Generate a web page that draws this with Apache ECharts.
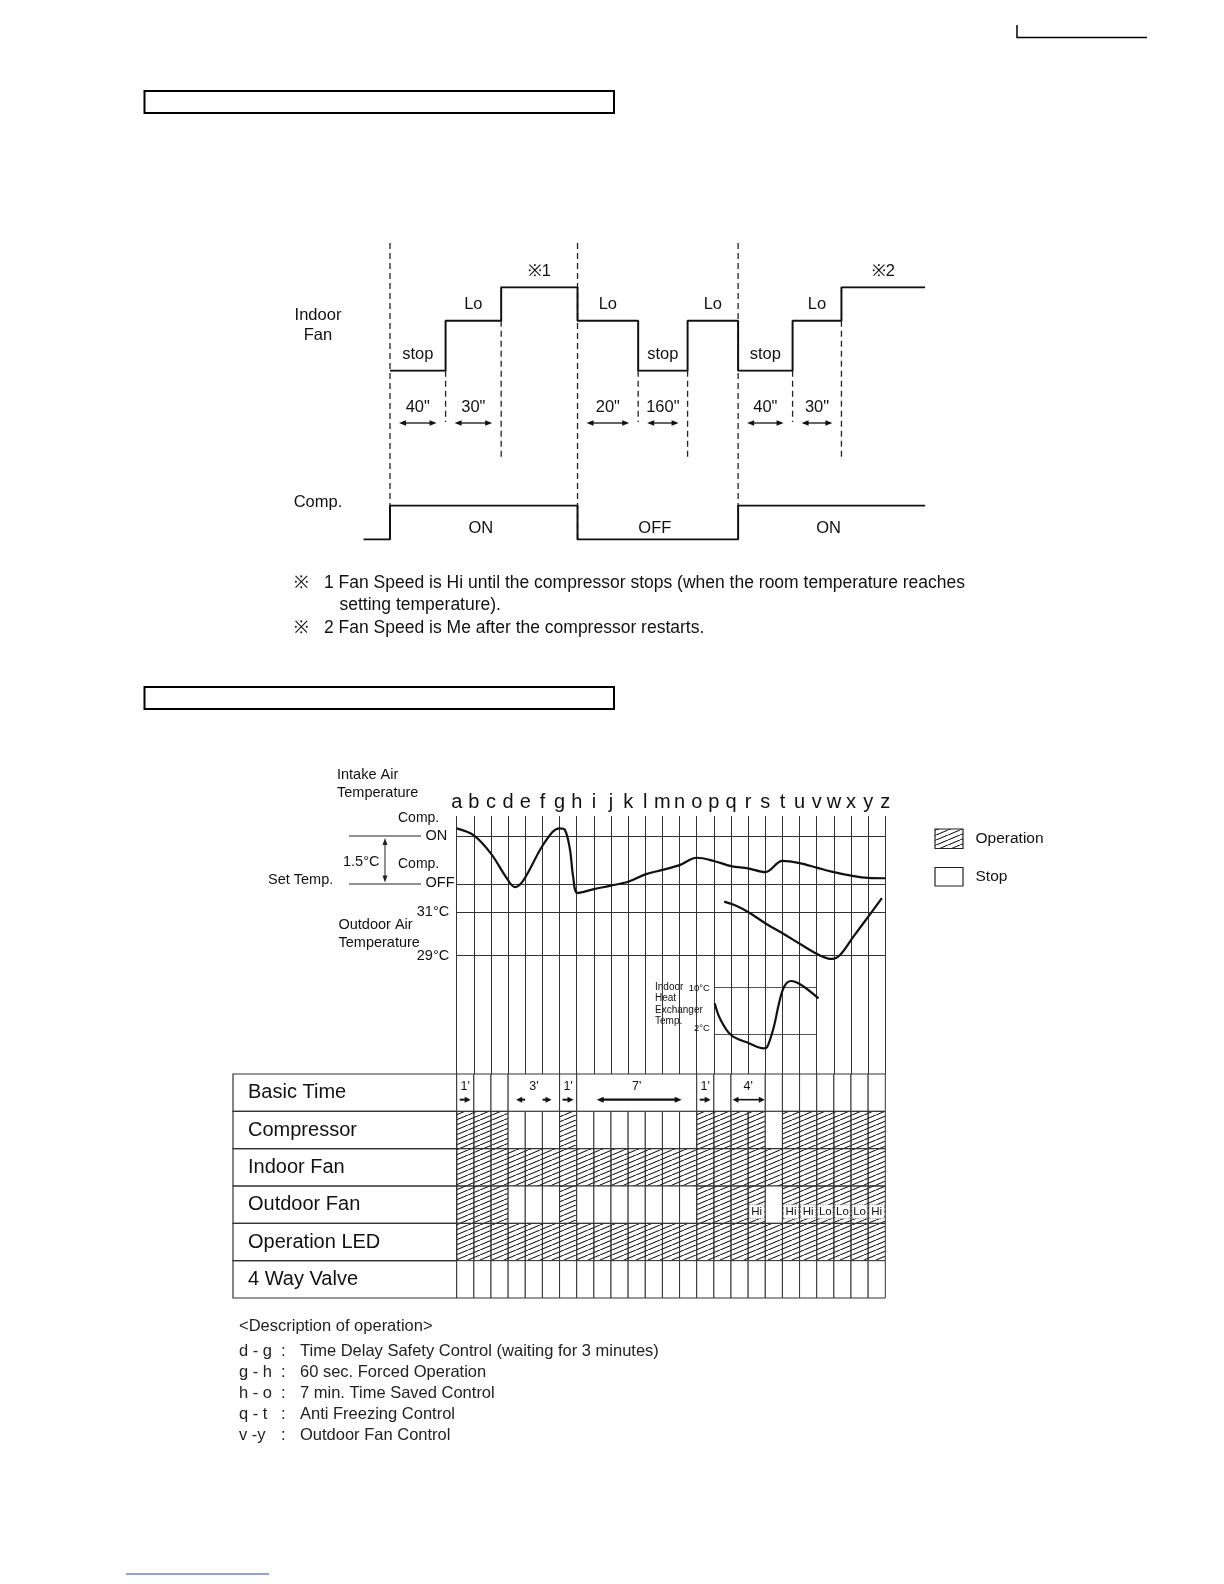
<!DOCTYPE html>
<html>
<head>
<meta charset="utf-8">
<script src="https://cdn.jsdelivr.net/npm/echarts@6/dist/echarts.min.js"></script>
<style>
  html, body { margin: 0; padding: 0; background: #fff; }
  #main { width: 1224px; height: 1584px; }
</style>
</head>
<body>
<div id="main"></div>
<script>
var FONT = '"Liberation Sans", Arial, Helvetica, sans-serif';

// ---- upper diagram (schematic time 0..100) ----
var fanTimes = [4.7, 14.6, 24.5, 38.1, 48.9, 57.7, 66.7, 76.4, 85.1, 100];
var fanLevel = [0, 3, 5, 3, 0, 3, 0, 3, 5, 5];          // stop=0, Lo=3, Hi=5
var fanTags = ['stop', 'Lo', '※1', 'Lo', 'stop', 'Lo', 'stop', 'Lo', '※2'];
var compTimes = [0, 4.7, 38.1, 66.7, 100];
var compLevel = [0, 1, 0, 1, 1];
var compTags = ['ON', 'OFF', 'ON'];
var gapFrom = [4.7, 14.6, 38.1, 48.9, 66.7, 76.4];
var gapTo = [14.6, 24.5, 48.9, 57.7, 76.4, 85.1];
var gapText = ['40"', '30"', '20"', '160"', '40"', '30"'];
var guideTimes = [4.7, 14.6, 24.5, 38.1, 48.9, 57.7, 66.7, 76.4, 85.1];
var guideKind = ['full', 'short', 'long', 'full', 'short', 'long', 'comp', 'short', 'long'];

// ---- lower diagram (a..z) ----
var letters = 'abcdefghijklmnopqrstuvwxyz'.split('');
var intake = [[0, 1.74], [1, 1.52], [2, 0.95], [2.9, 0.2], [3.4, -0.1], [3.9, 0.12], [4.9, 1.1],
  [5.6, 1.63], [6.0, 1.74], [6.3, 1.7], [6.6, 1.1], [6.8, 0.2], [7.05, -0.28], [8, -0.16],
  [9, -0.05], [10, 0.07], [11, 0.3], [12, 0.44], [13, 0.59], [14, 0.82], [15, 0.72], [16, 0.56],
  [17, 0.49], [18, 0.37], [19, 0.72], [20, 0.65], [21, 0.51], [22, 0.37], [23, 0.26], [24, 0.19], [25, 0.18]];
var outdoor = [[15.6, 31.49], [16.33, 31.29], [17.07, 30.98], [18.09, 30.45], [19.1, 29.99],
  [20.13, 29.49], [21.14, 29.03], [21.88, 28.85], [22.36, 29.03], [23.14, 29.88], [24.15, 30.95], [24.8, 31.65]];
var hexTemp = [[15.05, 7.3], [15.35, 4.77], [16.0, 1.95], [17.05, 0.55], [17.9, -0.3], [18.1, -0.13],
  [18.5, 3.35], [18.8, 7.3], [19.1, 10.1], [19.5, 11.06], [20.1, 10.39], [21.1, 8.14]];

var rows = ['Basic Time', 'Compressor', 'Indoor Fan', 'Outdoor Fan', 'Operation LED', '4 Way Valve'];
var allCols = []; for (var i = 0; i < 25; i++) allCols.push(i);
var compOn = [0, 1, 2, 6, 14, 15, 16, 17, 19, 20, 21, 22, 23, 24];
var rowOn = [null, compOn, allCols, compOn, allCols, []];
var basicSpans = [[0, 1], [1, 2], [2, 3], [3, 6], [6, 7], [7, 14], [14, 15], [15, 16], [16, 18],
  [18, 19], [19, 20], [20, 21], [21, 22], [22, 23], [23, 24], [24, 25]];
var timeFrom = [0, 3, 6, 7, 14, 16];
var timeTo = [1, 6, 7, 14, 15, 18];
var timeText = ["1'", "3'", "1'", "7'", "1'", "4'"];
var timeArrow = ['right', 'split', 'right', 'long', 'right', 'both'];
var speedCols = [17, 19, 20, 21, 22, 23, 24];
var speedText = ['Hi', 'Hi', 'Hi', 'Lo', 'Lo', 'Lo', 'Hi'];

var descCodes = ['d - g', 'g - h', 'h - o', 'q - t', 'v -y'];
var descTexts = ['Time Delay Safety Control (waiting for 3 minutes)', '60 sec. Forced Operation',
  '7 min. Time Saved Control', 'Anti Freezing Control', 'Outdoor Fan Control'];

// ---- layout ----
var TL = 363.6, TW = 561.5;
var BL = 456.7, BW = 428.6;
var INK = '#111';

function hatchTile() {
  var c = document.createElement('canvas');
  c.width = 12; c.height = 5;
  var g = c.getContext('2d');
  g.strokeStyle = '#111'; g.lineWidth = 1.05;
  g.beginPath();
  for (var k = -1; k <= 1; k++) { g.moveTo(k * 12, 5); g.lineTo(k * 12 + 12, 0); }
  g.stroke();
  return c;
}
var hatch = { image: hatchTile(), repeat: 'repeat' };

function arrow(x1, x2, y, left, right, lw, hl, hw) {
  var els = [{ type: 'line', shape: { x1: x1 + (left ? hl - 1 : 0), y1: y, x2: x2 - (right ? hl - 1 : 0), y2: y },
    style: { stroke: INK, lineWidth: lw } }];
  if (left) els.push({ type: 'polygon', shape: { points: [[x1, y], [x1 + hl, y - hw], [x1 + hl, y + hw]] }, style: { fill: INK } });
  if (right) els.push({ type: 'polygon', shape: { points: [[x2, y], [x2 - hl, y - hw], [x2 - hl, y + hw]] }, style: { fill: INK } });
  return els;
}

function txt(s, x, y, size, align, extra) {
  var o = { type: 'text', x: x, y: y, style: { text: s, font: size + 'px ' + FONT, fill: INK,
    textAlign: align || 'left', textVerticalAlign: 'middle' }, silent: true };
  if (extra) for (var k in extra) o.style[k] = extra[k];
  return o;
}

var chart = echarts.init(document.getElementById('main'));

var fanData = fanTimes.map(function (t, i) { return [t, fanLevel[i]]; });
var compData = compTimes.map(function (t, i) { return [t, compLevel[i]]; });
var tagData = fanTags.map(function (s, i) { return [fanTimes[i], fanTimes[i + 1], fanLevel[i]]; });
var compTagData = compTags.map(function (s, i) { return [compTimes[i + 1], compTimes[i + 2]]; });
var gapData = gapText.map(function (s, i) { return [gapFrom[i], gapTo[i]]; });
var guideData = guideTimes.map(function (t) {
  var i = fanTimes.indexOf(t);
  return [t, Math.min(fanLevel[i - 1] || 0, fanLevel[i])];
});
var guideBottom = { full: 540, comp: 506, short: 422, long: 458 };

var cellData = [];
basicSpans.forEach(function (s) { cellData.push([s[0], s[1], 0, 0]); });
for (var r = 1; r < rows.length; r++) {
  for (var c = 0; c < 25; c++) cellData.push([c, c + 1, r, rowOn[r].indexOf(c) >= 0 ? 1 : 0]);
}
var timeData = timeText.map(function (s, i) { return [timeFrom[i], timeTo[i], 0]; });
var speedData = speedCols.map(function (c) { return [c, 3]; });

var hiddenX = function (gi, min, max) {
  return { type: 'value', gridIndex: gi, min: min, max: max, show: false };
};
var plainY = function (gi, min, max, extra) {
  var o = { type: 'value', gridIndex: gi, min: min, max: max, axisLine: { show: false },
    axisTick: { show: false }, axisLabel: { show: false }, splitLine: { show: false } };
  if (extra) for (var k in extra) o[k] = extra[k];
  return o;
};

var option = {
  backgroundColor: '#fff',
  animation: false,
  textStyle: { fontFamily: FONT },
  grid: [
    { left: TL, width: TW, top: 287.3, height: 83.4 },           // 0 indoor fan
    { left: TL, width: TW, top: 505.5, height: 34.1 },           // 1 comp
    { left: BL, width: BW, top: 816, height: 258 },              // 2 lines a..z
    { left: BL, width: BW, top: 836, height: 48 },               // 3 intake
    { left: BL, width: BW, top: 912.3, height: 43.4 },           // 4 outdoor
    { left: BL + 15 * BW / 25, width: 6 * BW / 25, top: 987.3, height: 47.4 }, // 5 heat exch
    { left: BL, width: BW, top: 1074, height: 224 }              // 6 table
  ],
  xAxis: [
    hiddenX(0, 0, 100), hiddenX(1, 0, 100),
    { type: 'category', gridIndex: 2, data: letters, boundaryGap: false, position: 'top',
      axisLine: { show: false }, axisTick: { show: false },
      axisLabel: { interval: 0, fontSize: 20, color: INK, margin: 4, fontFamily: FONT },
      splitLine: { show: true, interval: 0, lineStyle: { color: '#333', width: 1 } } },
    hiddenX(3, 0, 25), hiddenX(4, 0, 25), hiddenX(5, 15, 21), hiddenX(6, 0, 25)
  ],
  yAxis: [
    plainY(0, 0, 5), plainY(1, 0, 1),
    { type: 'value', gridIndex: 2, show: false, min: 0, max: 1 },
    plainY(3, 0, 1.5, { interval: 1.5, splitLine: { show: true, lineStyle: { color: '#333', width: 1 } } }),
    plainY(4, 29, 31, { interval: 2, splitLine: { show: true, lineStyle: { color: '#333', width: 1 } },
      axisLabel: { show: true, formatter: '{value}°C', fontSize: 14.5, color: INK, margin: 7.5, fontFamily: FONT } }),
    plainY(5, 2, 10, { interval: 8,
      splitLine: { show: true, lineStyle: { color: '#555', width: 1 } },
      axisLabel: { show: true, margin: 4, color: INK, fontSize: 9.5, fontFamily: FONT,
        formatter: function (v) { return v === 2 ? '{up|2°C}' : '{n|' + v + '°C}'; },
        rich: { up: { fontSize: 9.5, padding: [0, 0, 13, 0], fontFamily: FONT }, n: { fontSize: 9.5, padding: [3, 0, 0, 0], fontFamily: FONT } } } }),
    { type: 'category', gridIndex: 6, data: rows, inverse: true,
      axisLine: { show: false }, axisTick: { show: false }, splitLine: { show: false },
      axisLabel: { align: 'left', margin: BL - 248, fontSize: 20, color: INK, fontFamily: FONT } }
  ],
  series: [
    { type: 'line', xAxisIndex: 0, yAxisIndex: 0, data: fanData, step: 'end', symbol: 'none',
      lineStyle: { color: INK, width: 2 }, z: 5 },
    { type: 'line', xAxisIndex: 1, yAxisIndex: 1, data: compData, step: 'end', symbol: 'none',
      lineStyle: { color: INK, width: 2 }, z: 5 },
    { type: 'custom', xAxisIndex: 0, yAxisIndex: 0, data: guideData, z: 3,
      renderItem: function (p, api) {
        var t = api.value(0), kind = guideKind[p.dataIndex];
        var x = api.coord([t, 0])[0];
        var y1 = (kind === 'full' || kind === 'comp') ? 243 : api.coord([t, api.value(1)])[1];
        return { type: 'line', shape: { x1: x, y1: y1, x2: x, y2: guideBottom[kind] },
          style: { stroke: '#222', lineWidth: 1.3, lineDash: [6, 4] } };
      } },
    { type: 'custom', xAxisIndex: 0, yAxisIndex: 0, data: tagData, z: 6,
      renderItem: function (p, api) {
        var a = api.coord([api.value(0), api.value(2)]), b = api.coord([api.value(1), api.value(2)]);
        return txt(fanTags[p.dataIndex], (a[0] + b[0]) / 2, a[1] - 16, 16.5, 'center');
      } },
    { type: 'custom', xAxisIndex: 0, yAxisIndex: 0, data: gapData, z: 6,
      renderItem: function (p, api) {
        var a = api.coord([api.value(0), 0])[0] + 9, b = api.coord([api.value(1), 0])[0] - 9;
        var els = arrow(a, b, 423, true, true, 1.3, 7, 2.8);
        els.push(txt(gapText[p.dataIndex], (a + b) / 2, 407, 16.5, 'center'));
        return { type: 'group', children: els };
      } },
    { type: 'custom', xAxisIndex: 1, yAxisIndex: 1, data: compTagData, z: 6,
      renderItem: function (p, api) {
        var a = api.coord([api.value(0), 0])[0], b = api.coord([api.value(1), 0])[0];
        return txt(compTags[p.dataIndex], (a + b) / 2 - 3, 528, 16.5, 'center');
      } },
    { type: 'line', xAxisIndex: 2, yAxisIndex: 2, data: [] },
    { type: 'line', xAxisIndex: 3, yAxisIndex: 3, data: intake, smooth: 0.35, symbol: 'none', clip: false,
      lineStyle: { color: INK, width: 2.2 }, z: 6 },
    { type: 'line', xAxisIndex: 4, yAxisIndex: 4, data: outdoor, smooth: 0.35, symbol: 'none', clip: false,
      lineStyle: { color: INK, width: 2.2 }, z: 6 },
    { type: 'line', xAxisIndex: 5, yAxisIndex: 5, data: hexTemp, smooth: 0.35, symbol: 'none', clip: false,
      lineStyle: { color: INK, width: 2.2 }, z: 6 },
    { type: 'custom', xAxisIndex: 6, yAxisIndex: 6, data: cellData, encode: { x: [0, 1], y: 2 }, z: 2,
      renderItem: function (p, api) {
        var a = api.coord([api.value(0), api.value(2)]), b = api.coord([api.value(1), api.value(2)]);
        var h = api.size([0, 1])[1];
        return { type: 'rect', shape: { x: a[0], y: a[1] - h / 2, width: b[0] - a[0], height: h },
          style: { fill: api.value(3) ? hatch : '#fff', stroke: '#333', lineWidth: 1 } };
      } },
    { type: 'custom', xAxisIndex: 6, yAxisIndex: 6, data: rows.map(function (s, i) { return [0, i]; }), z: 1,
      renderItem: function (p, api) {
        var a = api.coord([0, api.value(1)]), h = api.size([0, 1])[1];
        return { type: 'rect', shape: { x: 233, y: a[1] - h / 2, width: a[0] - 233, height: h },
          style: { fill: 'none', stroke: '#333', lineWidth: 1.2 } };
      } },
    { type: 'custom', xAxisIndex: 6, yAxisIndex: 6, data: timeData, z: 4,
      renderItem: function (p, api) {
        var i = p.dataIndex, kind = timeArrow[i];
        var a = api.coord([api.value(0), 0]), b = api.coord([api.value(1), 0]);
        var y = a[1] + 7, els = [];
        if (kind === 'right') els = arrow(a[0] + 3, a[0] + 14, y, false, true, 2, 6, 3);
        if (kind === 'split') els = arrow(a[0] + 8, a[0] + 17, y, true, false, 2, 6, 3)
          .concat(arrow(b[0] - 17, b[0] - 8, y, false, true, 2, 6, 3));
        if (kind === 'long') els = arrow(a[0] + 20, b[0] - 15, y, true, true, 2.2, 7, 3);
        if (kind === 'both') els = arrow(a[0] + 1.5, b[0] - 0.5, y, true, true, 1.6, 6, 3);
        var tx = kind === 'right' ? a[0] + 8.5 : (a[0] + b[0]) / 2;
        els.push(txt(timeText[i], tx, a[1] - 6.5, 12.5, 'center'));
        return { type: 'group', children: els };
      } },
    { type: 'custom', xAxisIndex: 6, yAxisIndex: 6, data: speedData, z: 5,
      renderItem: function (p, api) {
        var a = api.coord([api.value(0), api.value(1)]), b = api.coord([api.value(0) + 1, api.value(1)]);
        var cy = a[1] + 7;
        return { type: 'group', children: [
          { type: 'rect', shape: { x: a[0] + 1, y: cy - 7, width: b[0] - a[0] - 2, height: 14 },
            style: { fill: '#fff', stroke: '#666', lineWidth: 0.8, lineDash: [1, 1.5] } },
          txt(speedText[p.dataIndex], (a[0] + b[0]) / 2, cy, 11.5, 'center')
        ] };
      } }
  ],
  graphic: { elements: [] }
};

var g = option.graphic.elements;
// header boxes and page marks
g.push({ type: 'rect', shape: { x: 144.5, y: 91, width: 469.5, height: 22 }, style: { fill: 'none', stroke: '#000', lineWidth: 2 } });
g.push({ type: 'rect', shape: { x: 144.5, y: 687, width: 469.5, height: 22 }, style: { fill: 'none', stroke: '#000', lineWidth: 2 } });
g.push({ type: 'polyline', shape: { points: [[1017, 25], [1017, 37.5], [1147, 37.5]] }, style: { stroke: '#000', lineWidth: 1.5, fill: 'none' } });
g.push({ type: 'line', shape: { x1: 126, y1: 1574, x2: 269, y2: 1574 }, style: { stroke: '#2a4a9a', lineWidth: 1.2 } });

// upper diagram labels
g.push(txt('Indoor', 318, 315, 16.5, 'center'));
g.push(txt('Fan', 318, 335, 16.5, 'center'));
g.push(txt('Comp.', 318, 502, 16.5, 'center'));
g.push(txt('※', 294, 583, 17.5));
g.push(txt('1 Fan Speed is Hi until the compressor stops (when the room temperature reaches', 324, 583, 17.5));
g.push(txt('setting temperature).', 339.5, 605, 17.5));
g.push(txt('※', 294, 628.5, 17.5));
g.push(txt('2 Fan Speed is Me after the compressor restarts.', 324, 628.5, 17.5));

// lower diagram side labels
g.push(txt('Intake Air', 337, 775, 14.5));
g.push(txt('Temperature', 337, 793, 14.5));
g.push(txt('Comp.', 398, 818, 14));
g.push(txt('ON', 425.5, 836, 14.5));
g.push(txt('1.5°C', 343, 862, 14.5));
g.push(txt('Comp.', 398, 864, 14));
g.push(txt('OFF', 425.5, 882.5, 14.5));
g.push(txt('Set Temp.', 268, 880, 14.5));
g.push(txt('Outdoor Air', 338.5, 925, 14.5));
g.push(txt('Temperature', 338.5, 943, 14.5));
g.push({ type: 'line', shape: { x1: 349, y1: 836, x2: 421, y2: 836 }, style: { stroke: '#222', lineWidth: 1 } });
g.push({ type: 'line', shape: { x1: 349, y1: 884, x2: 421, y2: 884 }, style: { stroke: '#222', lineWidth: 1 } });
g.push({ type: 'line', shape: { x1: 385, y1: 842, x2: 385, y2: 879 }, style: { stroke: '#222', lineWidth: 1 } });
g.push({ type: 'polygon', shape: { points: [[385, 838], [382.5, 845], [387.5, 845]] }, style: { fill: '#222' } });
g.push({ type: 'polygon', shape: { points: [[385, 882.5], [382.5, 875.5], [387.5, 875.5]] }, style: { fill: '#222' } });
['Indoor', 'Heat', 'Exchanger', 'Temp.'].forEach(function (s, i) {
  g.push(txt(s, 655, 987 + i * 11.5, 10));
});

// legend
g.push({ type: 'rect', shape: { x: 935, y: 829, width: 28, height: 19.5 }, style: { fill: hatch, stroke: '#222', lineWidth: 1.2 } });
g.push(txt('Operation', 975.5, 838.5, 15.5));
g.push({ type: 'rect', shape: { x: 935, y: 867.5, width: 28, height: 18.5 }, style: { fill: '#fff', stroke: '#222', lineWidth: 1.2 } });
g.push(txt('Stop', 975.5, 877, 15.5));

// description
g.push(txt('<Description of operation>', 239, 1326.5, 16.5, 'left', { fill: '#222' }));
descCodes.forEach(function (s, i) {
  var y = 1351.5 + i * 21;
  g.push(txt(s, 239, y, 16.5, 'left', { fill: '#222' }));
  g.push(txt(':', 281, y, 16.5, 'left', { fill: '#222' }));
  g.push(txt(descTexts[i], 300, y, 16.5, 'left', { fill: '#222' }));
});

chart.setOption(option);
</script>
</body>
</html>
